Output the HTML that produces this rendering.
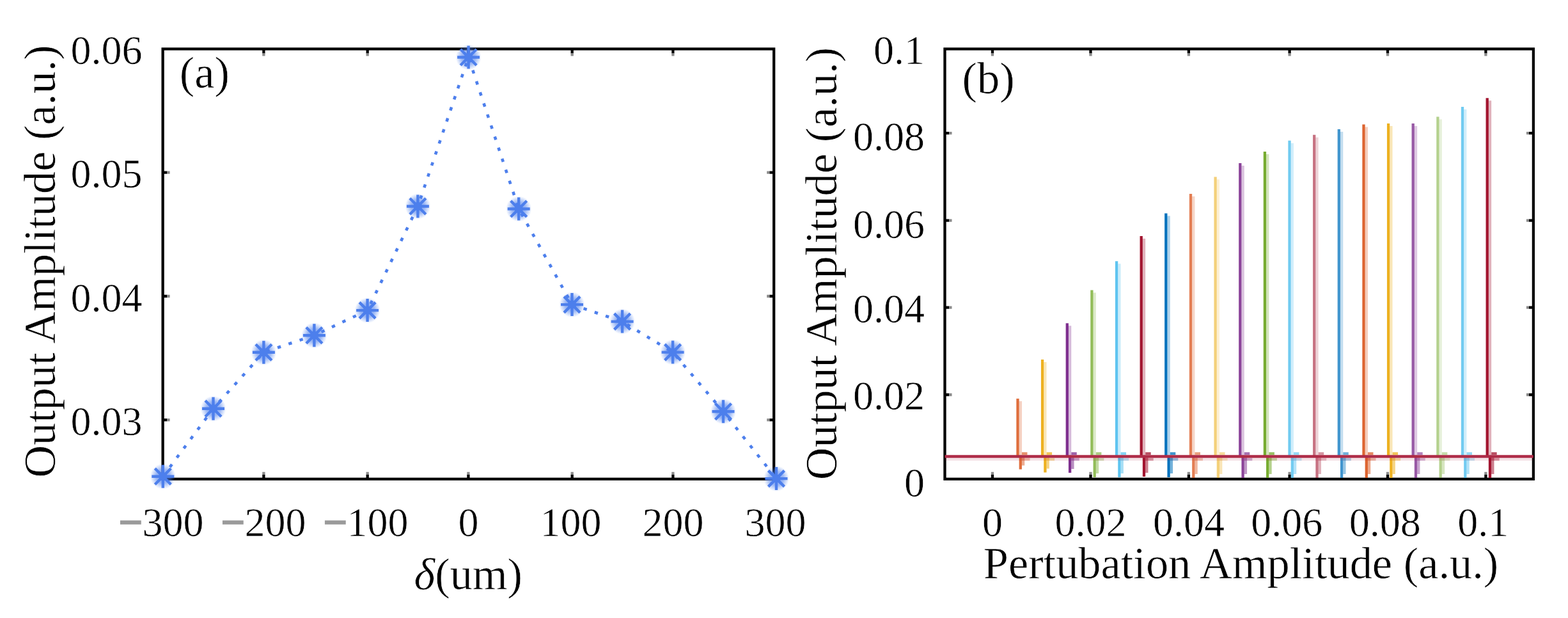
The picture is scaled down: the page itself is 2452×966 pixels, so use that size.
<!DOCTYPE html><html><head><meta charset="utf-8"><title>Figure</title><style>
html,body{margin:0;padding:0;background:#fff;}
body{width:2452px;height:966px;overflow:hidden;}
svg{display:block;}
text{font-family:'Liberation Serif', 'Times New Roman', serif;fill:#000;stroke:#fff;stroke-width:0.6px;}
.t{font-size:64px;}
.l{font-size:70.4px;}
.m{fill:#9a9a9a;stroke:#9a9a9a;stroke-width:3px;}
</style></head><body>
<svg width="2452" height="966" viewBox="0 0 2452 966">
<rect width="2452" height="966" fill="#fff"/>
<g stroke="#000" stroke-width="4.3" fill="none">
<rect x="254.6" y="76.5" width="955.6" height="672.3"/>
<path d="M412.4 748.8V741.9M412.4 76.5V83.4M574.7 748.8V741.9M574.7 76.5V83.4M732.4 748.8V741.9M732.4 76.5V83.4M894.7 748.8V741.9M894.7 76.5V83.4M1052.4 748.8V741.9M1052.4 76.5V83.4M254.6 269.6H261.5M1210.2 269.6H1203.3M254.6 463.0H261.5M1210.2 463.0H1203.3M254.6 656.4H261.5M1210.2 656.4H1203.3"/>
<path stroke="#8a8a8a" d="M412.4 741.9V737.8M412.4 83.4V87.5M574.7 741.9V737.8M574.7 83.4V87.5M732.4 741.9V737.8M732.4 83.4V87.5M894.7 741.9V737.8M894.7 83.4V87.5M1052.4 741.9V737.8M1052.4 83.4V87.5M261.5 269.6H265.6M1203.3 269.6H1199.2M261.5 463.0H265.6M1203.3 463.0H1199.2M261.5 656.4H265.6M1203.3 656.4H1199.2"/>
</g>
<polyline fill="none" stroke="#4D7FEC" stroke-width="4.6" stroke-dasharray="5.4 12.8" points="254.8,744.7 333.5,638.8 412.4,550.7 491.4,524.2 574.6,485.1 653.4,322.5 732.6,89.5 811.2,326.5 894.5,476.1 973.1,502.6 1052.1,550.6 1131.0,643.2 1214.0,748.1"/>
<defs><radialGradient id="mg"><stop offset="0" stop-color="#4D7FEC" stop-opacity="0.85"/><stop offset="0.55" stop-color="#4D7FEC" stop-opacity="0.55"/><stop offset="1" stop-color="#4D7FEC" stop-opacity="0"/></radialGradient><filter id="sb" x="-10%" y="-10%" width="120%" height="120%"><feGaussianBlur stdDeviation="0.6"/></filter></defs>
<g filter="url(#sb)">
<g fill="url(#mg)"><circle cx="254.8" cy="744.7" r="20"/><circle cx="333.5" cy="638.8" r="20"/><circle cx="412.4" cy="550.7" r="20"/><circle cx="491.4" cy="524.2" r="20"/><circle cx="574.6" cy="485.1" r="20"/><circle cx="653.4" cy="322.5" r="20"/><circle cx="732.6" cy="89.5" r="20"/><circle cx="811.2" cy="326.5" r="20"/><circle cx="894.5" cy="476.1" r="20"/><circle cx="973.1" cy="502.6" r="20"/><circle cx="1052.1" cy="550.6" r="20"/><circle cx="1131.0" cy="643.2" r="20"/><circle cx="1214.0" cy="748.1" r="20"/></g>
<path fill="none" stroke="#4D7FEC" stroke-width="4.4" d="M237.3 744.7H272.3M254.8 726.7V762.7M242.3 732.2L267.3 757.2M242.3 757.2L267.3 732.2M316.0 638.8H351.0M333.5 620.8V656.8M321.0 626.3L346.0 651.3M321.0 651.3L346.0 626.3M394.9 550.7H429.9M412.4 532.7V568.7M399.9 538.2L424.9 563.2M399.9 563.2L424.9 538.2M473.9 524.2H508.9M491.4 506.2V542.2M478.9 511.7L503.9 536.7M478.9 536.7L503.9 511.7M557.1 485.1H592.1M574.6 467.1V503.1M562.1 472.6L587.1 497.6M562.1 497.6L587.1 472.6M635.9 322.5H670.9M653.4 304.5V340.5M640.9 310.0L665.9 335.0M640.9 335.0L665.9 310.0M715.1 89.5H750.1M732.6 71.5V107.5M720.1 77.0L745.1 102.0M720.1 102.0L745.1 77.0M793.7 326.5H828.7M811.2 308.5V344.5M798.7 314.0L823.7 339.0M798.7 339.0L823.7 314.0M877.0 476.1H912.0M894.5 458.1V494.1M882.0 463.6L907.0 488.6M882.0 488.6L907.0 463.6M955.6 502.6H990.6M973.1 484.6V520.6M960.6 490.1L985.6 515.1M960.6 515.1L985.6 490.1M1034.6 550.6H1069.6M1052.1 532.6V568.6M1039.6 538.1L1064.6 563.1M1039.6 563.1L1064.6 538.1M1113.5 643.2H1148.5M1131.0 625.2V661.2M1118.5 630.7L1143.5 655.7M1118.5 655.7L1143.5 630.7M1196.5 748.1H1231.5M1214.0 730.1V766.1M1201.5 735.6L1226.5 760.6M1201.5 760.6L1226.5 735.6"/>
<g fill="#4D7FEC"><rect x="248.8" y="738.7" width="12" height="12"/><rect x="327.5" y="632.8" width="12" height="12"/><rect x="406.4" y="544.7" width="12" height="12"/><rect x="485.4" y="518.2" width="12" height="12"/><rect x="568.6" y="479.1" width="12" height="12"/><rect x="647.4" y="316.5" width="12" height="12"/><rect x="726.6" y="83.5" width="12" height="12"/><rect x="805.2" y="320.5" width="12" height="12"/><rect x="888.5" y="470.1" width="12" height="12"/><rect x="967.1" y="496.6" width="12" height="12"/><rect x="1046.1" y="544.6" width="12" height="12"/><rect x="1125.0" y="637.2" width="12" height="12"/><rect x="1208.0" y="742.1" width="12" height="12"/></g>
</g>
<text class="t" x="222.5" y="100.0" text-anchor="end">0.06</text>
<text class="t" x="222.5" y="292.8" text-anchor="end">0.05</text>
<text class="t" x="222.5" y="487.1" text-anchor="end">0.04</text>
<text class="t" x="222.5" y="680.0" text-anchor="end">0.03</text>
<text class="t" x="252.4" y="838" text-anchor="middle"><tspan class="m">−</tspan>300</text>
<text class="t" x="412.4" y="838" text-anchor="middle"><tspan class="m">−</tspan>200</text>
<text class="t" x="572.4" y="838" text-anchor="middle"><tspan class="m">−</tspan>100</text>
<text class="t" x="732.4" y="838" text-anchor="middle">0</text>
<text class="t" x="892.4" y="838" text-anchor="middle">100</text>
<text class="t" x="1052.4" y="838" text-anchor="middle">200</text>
<text class="t" x="1212.4" y="838" text-anchor="middle">300</text>
<text class="l" x="732.3" y="921" text-anchor="middle"><tspan font-style="italic">δ</tspan>(um)</text>
<text class="l" transform="translate(86.3 408.6) rotate(-90)" text-anchor="middle">Output Amplitude (a.u.)</text>
<text class="l" x="280.8" y="137">(a)</text>
<g stroke="#000" stroke-width="4.3" fill="none">
<rect x="1477.5" y="76.5" width="920.4000000000001" height="672.3"/>
<path d="M1552.0 748.8V741.9M1552.0 76.5V83.4M1705.5 748.8V741.9M1705.5 76.5V83.4M1858.9 748.8V741.9M1858.9 76.5V83.4M2016.6 748.8V741.9M2016.6 76.5V83.4M2170.0 748.8V741.9M2170.0 76.5V83.4M2323.4 748.8V741.9M2323.4 76.5V83.4M1477.5 208.2H1484.4M2397.9 208.2H2391.0M1477.5 344.6H1484.4M2397.9 344.6H2391.0M1477.5 480.6H1484.4M2397.9 480.6H2391.0M1477.5 617.0H1484.4M2397.9 617.0H2391.0"/>
<path stroke="#8a8a8a" d="M1552.0 741.9V737.8M1552.0 83.4V87.5M1705.5 741.9V737.8M1705.5 83.4V87.5M1858.9 741.9V737.8M1858.9 83.4V87.5M2016.6 741.9V737.8M2016.6 83.4V87.5M2170.0 741.9V737.8M2170.0 83.4V87.5M2323.4 741.9V737.8M2323.4 83.4V87.5M1484.4 208.2H1488.5M2391.0 208.2H2386.9M1484.4 344.6H1488.5M2391.0 344.6H2386.9M1484.4 480.6H1488.5M2391.0 480.6H2386.9M1484.4 617.0H1488.5M2391.0 617.0H2386.9"/>
</g>
<g fill="none" stroke-width="4.3"><g stroke="#D95319"><path d="M1591.5 713.5V623.1" stroke-opacity="0.85"/><path d="M1595.8 627.1V713.5" stroke-opacity="0.27"/><path d="M1595.8 713.5V733.6" stroke-opacity="0.85"/><path d="M1600.1 713.5V727.6" stroke-opacity="0.47"/><path d="M1598.0 709.0H1606.5" stroke-opacity="0.64"/><path d="M1598.0 718.0H1610.5" stroke-opacity="0.34"/></g><g stroke="#EDB120"><path d="M1630.1 713.5V562.0" stroke-opacity="1.00"/><path d="M1634.4 566.0V713.5" stroke-opacity="0.32"/><path d="M1634.4 713.5V738.5" stroke-opacity="1.00"/><path d="M1638.7 713.5V732.5" stroke-opacity="0.55"/><path d="M1636.6 709.0H1645.1" stroke-opacity="0.75"/><path d="M1636.6 718.0H1649.1" stroke-opacity="0.40"/></g><g stroke="#7E2F8E"><path d="M1668.8 713.5V505.2" stroke-opacity="1.00"/><path d="M1673.1 509.2V713.5" stroke-opacity="0.32"/><path d="M1673.1 713.5V739.0" stroke-opacity="1.00"/><path d="M1677.4 713.5V733.0" stroke-opacity="0.55"/><path d="M1675.3 709.0H1683.8" stroke-opacity="0.75"/><path d="M1675.3 718.0H1687.8" stroke-opacity="0.40"/></g><g stroke="#77AC30"><path d="M1707.4 713.5V453.5" stroke-opacity="0.80"/><path d="M1711.7 457.5V713.5" stroke-opacity="0.26"/><path d="M1711.7 713.5V746.0" stroke-opacity="0.80"/><path d="M1716.0 713.5V740.0" stroke-opacity="0.44"/><path d="M1713.9 709.0H1722.4" stroke-opacity="0.60"/><path d="M1713.9 718.0H1726.4" stroke-opacity="0.32"/></g><g stroke="#4DBEEE"><path d="M1746.1 713.5V408.3" stroke-opacity="0.90"/><path d="M1750.4 412.3V713.5" stroke-opacity="0.29"/><path d="M1750.4 713.5V746.0" stroke-opacity="0.90"/><path d="M1754.7 713.5V740.0" stroke-opacity="0.50"/><path d="M1752.6 709.0H1761.1" stroke-opacity="0.68"/><path d="M1752.6 718.0H1765.1" stroke-opacity="0.36"/></g><g stroke="#A2142F"><path d="M1784.7 713.5V368.9" stroke-opacity="1.00"/><path d="M1789.0 372.9V713.5" stroke-opacity="0.32"/><path d="M1789.0 713.5V745.0" stroke-opacity="1.00"/><path d="M1793.3 713.5V739.0" stroke-opacity="0.55"/><path d="M1791.2 709.0H1799.7" stroke-opacity="0.75"/><path d="M1791.2 718.0H1803.7" stroke-opacity="0.40"/></g><g stroke="#0072BD"><path d="M1823.3 713.5V333.4" stroke-opacity="1.00"/><path d="M1827.6 337.4V713.5" stroke-opacity="0.32"/><path d="M1827.6 713.5V746.0" stroke-opacity="1.00"/><path d="M1831.9 713.5V740.0" stroke-opacity="0.55"/><path d="M1829.8 709.0H1838.3" stroke-opacity="0.75"/><path d="M1829.8 718.0H1842.3" stroke-opacity="0.40"/></g><g stroke="#D95319"><path d="M1862.0 713.5V303.0" stroke-opacity="0.75"/><path d="M1866.3 307.0V713.5" stroke-opacity="0.24"/><path d="M1866.3 713.5V747.0" stroke-opacity="0.75"/><path d="M1870.6 713.5V741.0" stroke-opacity="0.41"/><path d="M1868.5 709.0H1877.0" stroke-opacity="0.56"/><path d="M1868.5 718.0H1881.0" stroke-opacity="0.30"/></g><g stroke="#EDB120"><path d="M1900.6 713.5V276.6" stroke-opacity="0.60"/><path d="M1904.9 280.6V713.5" stroke-opacity="0.19"/><path d="M1904.9 713.5V747.0" stroke-opacity="0.60"/><path d="M1909.2 713.5V741.0" stroke-opacity="0.33"/><path d="M1907.1 709.0H1915.6" stroke-opacity="0.45"/><path d="M1907.1 718.0H1919.6" stroke-opacity="0.24"/></g><g stroke="#7E2F8E"><path d="M1939.3 713.5V254.9" stroke-opacity="0.90"/><path d="M1943.6 258.9V713.5" stroke-opacity="0.29"/><path d="M1943.6 713.5V747.0" stroke-opacity="0.90"/><path d="M1947.9 713.5V741.0" stroke-opacity="0.50"/><path d="M1945.8 709.0H1954.3" stroke-opacity="0.68"/><path d="M1945.8 718.0H1958.3" stroke-opacity="0.36"/></g><g stroke="#77AC30"><path d="M1977.9 713.5V236.9" stroke-opacity="1.00"/><path d="M1982.2 240.9V713.5" stroke-opacity="0.32"/><path d="M1982.2 713.5V747.0" stroke-opacity="1.00"/><path d="M1986.5 713.5V741.0" stroke-opacity="0.55"/><path d="M1984.4 709.0H1992.9" stroke-opacity="0.75"/><path d="M1984.4 718.0H1996.9" stroke-opacity="0.40"/></g><g stroke="#4DBEEE"><path d="M2016.5 713.5V219.8" stroke-opacity="0.80"/><path d="M2020.8 223.8V713.5" stroke-opacity="0.26"/><path d="M2020.8 713.5V747.0" stroke-opacity="0.80"/><path d="M2025.1 713.5V741.0" stroke-opacity="0.44"/><path d="M2023.0 709.0H2031.5" stroke-opacity="0.60"/><path d="M2023.0 718.0H2035.5" stroke-opacity="0.32"/></g><g stroke="#A2142F"><path d="M2055.2 713.5V210.8" stroke-opacity="0.60"/><path d="M2059.5 214.8V713.5" stroke-opacity="0.19"/><path d="M2059.5 713.5V747.0" stroke-opacity="0.60"/><path d="M2063.8 713.5V741.0" stroke-opacity="0.33"/><path d="M2061.7 709.0H2070.2" stroke-opacity="0.45"/><path d="M2061.7 718.0H2074.2" stroke-opacity="0.24"/></g><g stroke="#0072BD"><path d="M2093.8 713.5V202.1" stroke-opacity="0.75"/><path d="M2098.1 206.1V713.5" stroke-opacity="0.24"/><path d="M2098.1 713.5V747.0" stroke-opacity="0.75"/><path d="M2102.4 713.5V741.0" stroke-opacity="0.41"/><path d="M2100.3 709.0H2108.8" stroke-opacity="0.56"/><path d="M2100.3 718.0H2112.8" stroke-opacity="0.30"/></g><g stroke="#D95319"><path d="M2132.5 713.5V194.5" stroke-opacity="0.90"/><path d="M2136.8 198.5V713.5" stroke-opacity="0.29"/><path d="M2136.8 713.5V747.0" stroke-opacity="0.90"/><path d="M2141.1 713.5V741.0" stroke-opacity="0.50"/><path d="M2139.0 709.0H2147.5" stroke-opacity="0.68"/><path d="M2139.0 718.0H2151.5" stroke-opacity="0.36"/></g><g stroke="#EDB120"><path d="M2171.1 713.5V193.0" stroke-opacity="1.00"/><path d="M2175.4 197.0V713.5" stroke-opacity="0.32"/><path d="M2175.4 713.5V747.0" stroke-opacity="1.00"/><path d="M2179.7 713.5V741.0" stroke-opacity="0.55"/><path d="M2177.6 709.0H2186.1" stroke-opacity="0.75"/><path d="M2177.6 718.0H2190.1" stroke-opacity="0.40"/></g><g stroke="#7E2F8E"><path d="M2209.7 713.5V193.0" stroke-opacity="0.80"/><path d="M2214.0 197.0V713.5" stroke-opacity="0.26"/><path d="M2214.0 713.5V747.0" stroke-opacity="0.80"/><path d="M2218.3 713.5V741.0" stroke-opacity="0.44"/><path d="M2216.2 709.0H2224.7" stroke-opacity="0.60"/><path d="M2216.2 718.0H2228.7" stroke-opacity="0.32"/></g><g stroke="#77AC30"><path d="M2248.4 713.5V182.5" stroke-opacity="0.55"/><path d="M2252.7 186.5V713.5" stroke-opacity="0.18"/><path d="M2252.7 713.5V747.0" stroke-opacity="0.55"/><path d="M2257.0 713.5V741.0" stroke-opacity="0.30"/><path d="M2254.9 709.0H2263.4" stroke-opacity="0.41"/><path d="M2254.9 718.0H2267.4" stroke-opacity="0.22"/></g><g stroke="#4DBEEE"><path d="M2287.0 713.5V167.0" stroke-opacity="0.80"/><path d="M2291.3 171.0V713.5" stroke-opacity="0.26"/><path d="M2291.3 713.5V747.0" stroke-opacity="0.80"/><path d="M2295.6 713.5V741.0" stroke-opacity="0.44"/><path d="M2293.5 709.0H2302.0" stroke-opacity="0.60"/><path d="M2293.5 718.0H2306.0" stroke-opacity="0.32"/></g><g stroke="#A2142F"><path d="M2325.7 713.5V153.3" stroke-opacity="1.00"/><path d="M2330.0 157.3V713.5" stroke-opacity="0.32"/><path d="M2330.0 713.5V747.0" stroke-opacity="1.00"/><path d="M2334.3 713.5V741.0" stroke-opacity="0.55"/><path d="M2332.2 709.0H2340.7" stroke-opacity="0.75"/><path d="M2332.2 718.0H2344.7" stroke-opacity="0.40"/></g></g>
<path d="M1477.5 713.5H2397.9" stroke="#AE2B47" stroke-width="4.6"/>
<path d="M1477.5 718.0H2397.9" stroke="#A2142F" stroke-opacity="0.12" stroke-width="4"/>
<text class="t" x="1446" y="99.8" text-anchor="end">0.1</text>
<text class="t" x="1446" y="235.3" text-anchor="end">0.08</text>
<text class="t" x="1446" y="372.0" text-anchor="end">0.06</text>
<text class="t" x="1446" y="504.2" text-anchor="end">0.04</text>
<text class="t" x="1446" y="640.2" text-anchor="end">0.02</text>
<text class="t" x="1446" y="775.6" text-anchor="end">0</text>
<text class="t" x="1552.0" y="838" text-anchor="middle">0</text>
<text class="t" x="1705.5" y="838" text-anchor="middle">0.02</text>
<text class="t" x="1858.9" y="838" text-anchor="middle">0.04</text>
<text class="t" x="2012.3" y="838" text-anchor="middle">0.06</text>
<text class="t" x="2165.8" y="838" text-anchor="middle">0.08</text>
<text class="t" x="2319.2" y="838" text-anchor="middle">0.1</text>
<text class="l" x="1940.5" y="904" text-anchor="middle">Pertubation Amplitude (a.u.)</text>
<text class="l" transform="translate(1308.3 412.1) rotate(-90)" text-anchor="middle">Output Amplitude (a.u.)</text>
<text class="l" x="1504.5" y="146">(b)</text>
</svg></body></html>
